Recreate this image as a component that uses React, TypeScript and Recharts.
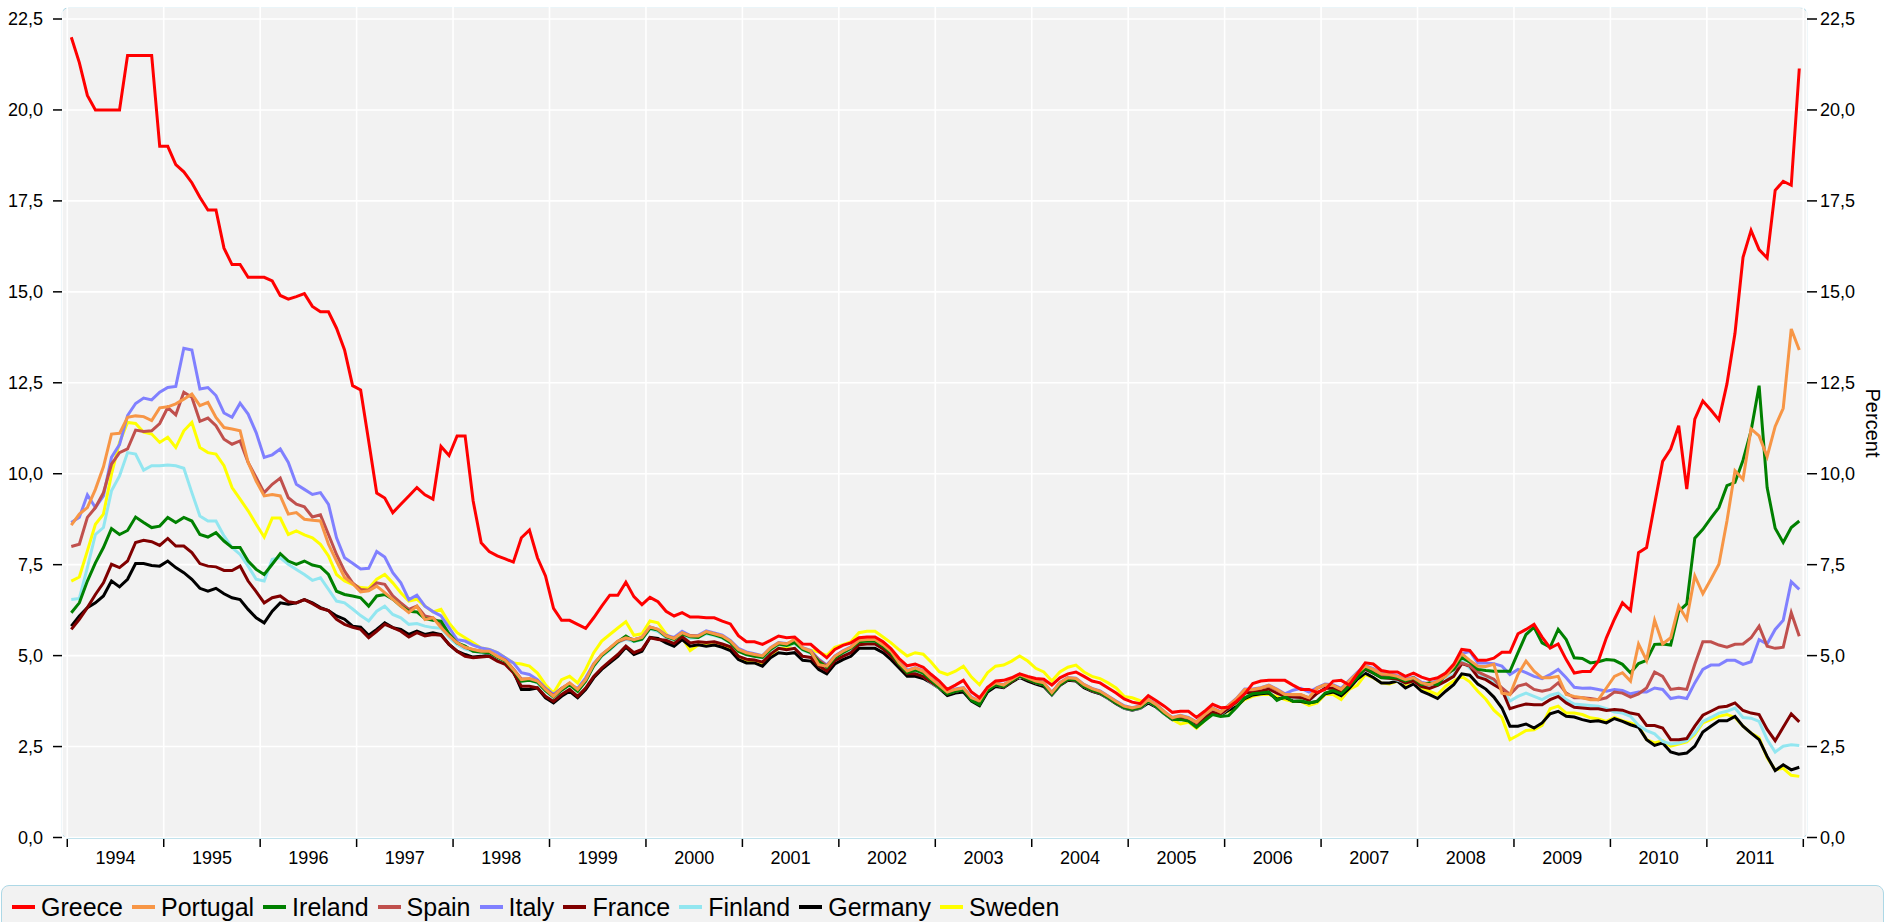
import React from "react";
import { LineChart, Line, XAxis, YAxis, CartesianGrid } from "recharts";

// monthly long-term bond yields, Jan 1994 .. Dec 2011 (one row per year)
const GREECE = [
  22.0, 21.3, 20.4, 20.0, 20.0, 20.0, 20.0, 21.5, 21.5, 21.5, 21.5, 19.0,
  19.0, 18.5, 18.3, 18.0, 17.6, 17.25, 17.25, 16.2, 15.75, 15.75, 15.4, 15.4,
  15.4, 15.3, 14.9, 14.8, 14.87, 14.95, 14.6, 14.45, 14.45, 14.0, 13.4, 12.42,
  12.3, 10.9, 9.47, 9.33, 8.93, 9.16, 9.39, 9.62, 9.42, 9.3, 10.75, 10.5,
  11.04, 11.04, 9.25, 8.1, 7.86, 7.74, 7.66, 7.57, 8.24, 8.45, 7.69, 7.19,
  6.3, 5.97, 5.97, 5.86, 5.75, 6.04, 6.36, 6.66, 6.66, 7.02, 6.62, 6.4,
  6.6, 6.48, 6.22, 6.09, 6.18, 6.06, 6.06, 6.04, 6.04, 5.95, 5.87, 5.55,
  5.38, 5.38, 5.31, 5.42, 5.54, 5.49, 5.51, 5.32, 5.31, 5.12, 4.94, 5.17,
  5.28, 5.35, 5.49, 5.51, 5.51, 5.38, 5.19, 4.92, 4.72, 4.77, 4.68, 4.48,
  4.3, 4.07, 4.19, 4.32, 4.0, 3.84, 4.13, 4.3, 4.32, 4.39, 4.5, 4.43,
  4.37, 4.35, 4.19, 4.39, 4.5, 4.55, 4.43, 4.3, 4.25, 4.11, 3.97, 3.81,
  3.72, 3.68, 3.9, 3.76, 3.61, 3.44, 3.47, 3.47, 3.3, 3.47, 3.66, 3.57,
  3.58, 3.75, 3.95, 4.23, 4.3, 4.32, 4.32, 4.32, 4.19, 4.07, 4.07, 3.99,
  4.07, 4.3, 4.32, 4.19, 4.5, 4.8, 4.77, 4.59, 4.55, 4.55, 4.43, 4.52,
  4.41, 4.34, 4.39, 4.52, 4.76, 5.17, 5.14, 4.87, 4.87, 4.93, 5.09, 5.09,
  5.6, 5.72, 5.86, 5.51, 5.21, 5.32, 4.89, 4.52, 4.56, 4.56, 4.85, 5.49,
  6.0, 6.45, 6.24, 7.83, 7.97, 9.16, 10.34, 10.68, 11.32, 9.58, 11.5, 12.0,
  11.75, 11.48, 12.47, 13.86, 15.95, 16.69, 16.16, 15.93, 17.79, 18.04, 17.93, 21.14,
];

const PORTUGAL = [
  8.59, 8.89, 9.07, 9.57, 10.19, 11.09, 11.11, 11.55, 11.59, 11.57, 11.46, 11.81,
  11.84, 11.92, 12.05, 12.19, 11.87, 11.96, 11.55, 11.27, 11.23, 11.18, 10.31, 9.8,
  9.39, 9.43, 9.39, 8.89, 8.93, 8.75, 8.72, 8.7, 8.06, 7.6, 7.15, 6.98,
  6.75, 6.78, 6.91, 6.73, 6.55, 6.36, 6.18, 6.36, 5.99, 6.04, 5.77, 5.54,
  5.35, 5.23, 5.17, 5.12, 5.12, 4.98, 4.87, 4.62, 4.34, 4.37, 4.3, 4.07,
  3.88, 4.09, 4.25, 4.07, 4.34, 4.76, 5.03, 5.21, 5.4, 5.49, 5.44, 5.5,
  5.79, 5.72, 5.54, 5.47, 5.63, 5.54, 5.54, 5.66, 5.6, 5.54, 5.4, 5.17,
  5.08, 5.03, 4.99, 5.21, 5.35, 5.32, 5.45, 5.21, 5.12, 4.75, 4.71, 4.98,
  5.12, 5.23, 5.42, 5.44, 5.44, 5.3, 5.12, 4.8, 4.58, 4.66, 4.57, 4.37,
  4.18, 4.0, 4.07, 4.11, 3.84, 3.76, 4.11, 4.25, 4.19, 4.34, 4.48, 4.39,
  4.3, 4.25, 3.98, 4.25, 4.39, 4.37, 4.2, 4.09, 4.02, 3.88, 3.74, 3.61,
  3.56, 3.61, 3.79, 3.65, 3.45, 3.29, 3.35, 3.29, 3.17, 3.38, 3.55, 3.45,
  3.63, 3.82, 4.07, 4.07, 4.11, 4.18, 4.07, 3.93, 3.93, 3.93, 3.84, 4.11,
  4.2, 4.18, 4.07, 4.3, 4.52, 4.71, 4.62, 4.5, 4.48, 4.43, 4.34, 4.39,
  4.25, 4.2, 4.3, 4.43, 4.71, 5.05, 4.87, 4.71, 4.7, 4.76, 3.97, 3.93,
  4.48, 4.85, 4.57, 4.39, 4.39, 4.43, 3.93, 3.88, 3.84, 3.79, 3.79, 4.11,
  4.43, 4.53, 4.3, 5.32, 4.87, 5.97, 5.32, 5.49, 6.36, 6.0, 7.19, 6.7,
  7.1, 7.51, 8.7, 10.08, 9.85, 11.23, 11.04, 10.47, 11.3, 11.8, 13.98, 13.4,
];

const IRELAND = [
  6.18, 6.45, 7.05, 7.55, 7.97, 8.49, 8.33, 8.44, 8.81, 8.66, 8.52, 8.56,
  8.8, 8.66, 8.8, 8.7, 8.33, 8.26, 8.38, 8.15, 7.97, 7.97, 7.6, 7.37,
  7.23, 7.51, 7.8, 7.6, 7.51, 7.6, 7.49, 7.44, 7.23, 6.77, 6.68, 6.64,
  6.59, 6.36, 6.64, 6.68, 6.55, 6.36, 6.22, 6.2, 6.02, 5.97, 5.95, 5.6,
  5.35, 5.26, 5.12, 5.1, 5.08, 4.96, 4.85, 4.6, 4.3, 4.32, 4.27, 4.04,
  3.86, 4.05, 4.2, 4.02, 4.3, 4.72, 5.0, 5.18, 5.38, 5.54, 5.4, 5.45,
  5.75, 5.7, 5.52, 5.45, 5.6, 5.52, 5.5, 5.63, 5.57, 5.5, 5.36, 5.12,
  5.03, 4.98, 4.95, 5.17, 5.32, 5.28, 5.36, 5.17, 5.08, 4.84, 4.68, 4.94,
  5.08, 5.2, 5.38, 5.4, 5.4, 5.26, 5.07, 4.76, 4.53, 4.6, 4.52, 4.32,
  4.12, 3.94, 4.02, 4.06, 3.77, 3.65, 4.04, 4.2, 4.15, 4.3, 4.44, 4.35,
  4.26, 4.2, 3.94, 4.2, 4.35, 4.33, 4.15, 4.05, 3.98, 3.84, 3.7, 3.57,
  3.52, 3.57, 3.75, 3.6, 3.41, 3.25, 3.24, 3.2, 3.03, 3.21, 3.38, 3.33,
  3.35, 3.58, 3.84, 3.95, 3.97, 4.0, 3.77, 3.88, 3.74, 3.76, 3.7, 3.74,
  3.97, 4.04, 3.95, 4.16, 4.39, 4.66, 4.52, 4.39, 4.39, 4.39, 4.3, 4.39,
  4.2, 4.25, 4.2, 4.48, 4.62, 4.95, 4.82, 4.62, 4.59, 4.57, 4.57, 4.57,
  5.08, 5.58, 5.78, 5.35, 5.23, 5.72, 5.44, 4.94, 4.92, 4.8, 4.83, 4.89,
  4.87, 4.76, 4.53, 4.78, 4.87, 5.31, 5.32, 5.29, 6.22, 6.42, 8.23, 8.47,
  8.78, 9.07, 9.67, 9.76, 10.37, 11.18, 12.42, 9.62, 8.5, 8.11, 8.52, 8.7,
];

const SPAIN = [
  8.0, 8.06, 8.8, 9.07, 9.48, 10.26, 10.58, 10.68, 11.2, 11.16, 11.18, 11.38,
  11.82, 11.62, 12.24, 12.1, 11.44, 11.53, 11.32, 10.95, 10.81, 10.9, 10.31, 9.9,
  9.48, 9.71, 9.88, 9.34, 9.16, 9.09, 8.81, 8.87, 8.33, 7.78, 7.32, 7.0,
  6.82, 6.8, 7.0, 6.96, 6.64, 6.45, 6.27, 6.36, 6.09, 6.04, 5.86, 5.58,
  5.36, 5.22, 5.16, 5.12, 5.1, 4.97, 4.88, 4.63, 4.36, 4.36, 4.3, 4.08,
  3.9, 4.1, 4.24, 4.06, 4.33, 4.75, 5.02, 5.2, 5.38, 5.47, 5.44, 5.49,
  5.78, 5.71, 5.55, 5.47, 5.62, 5.55, 5.53, 5.65, 5.6, 5.53, 5.4, 5.16,
  5.07, 5.03, 4.98, 5.2, 5.34, 5.32, 5.38, 5.2, 5.12, 4.88, 4.72, 4.97,
  5.11, 5.22, 5.41, 5.43, 5.43, 5.29, 5.11, 4.8, 4.57, 4.64, 4.56, 4.36,
  4.17, 3.99, 4.06, 4.1, 3.83, 3.72, 4.1, 4.24, 4.18, 4.33, 4.47, 4.38,
  4.29, 4.24, 3.97, 4.24, 4.38, 4.36, 4.19, 4.08, 4.01, 3.87, 3.73, 3.6,
  3.55, 3.6, 3.78, 3.64, 3.44, 3.28, 3.33, 3.28, 3.16, 3.37, 3.54, 3.44,
  3.62, 3.8, 4.05, 4.06, 4.1, 4.16, 4.05, 3.93, 3.92, 3.92, 3.84, 4.1,
  4.2, 4.18, 4.07, 4.3, 4.5, 4.7, 4.6, 4.48, 4.46, 4.42, 4.33, 4.38,
  4.24, 4.2, 4.28, 4.45, 4.62, 4.8, 4.72, 4.55, 4.45, 4.35, 4.11, 3.93,
  4.16, 4.22, 4.07, 4.02, 4.07, 4.25, 3.97, 3.84, 3.84, 3.82, 3.79, 3.84,
  4.0, 3.97, 3.86, 3.95, 4.11, 4.55, 4.43, 4.07, 4.1, 4.07, 4.76, 5.38,
  5.38, 5.29, 5.23, 5.31, 5.32, 5.49, 5.81, 5.26, 5.2, 5.23, 6.18, 5.53,
];

const ITALY = [
  8.66, 8.8, 9.42, 9.07, 9.39, 10.45, 10.8, 11.6, 11.93, 12.08, 12.03, 12.24,
  12.37, 12.4, 13.45, 13.4, 12.33, 12.37, 12.15, 11.67, 11.55, 11.94, 11.64, 11.13,
  10.45, 10.52, 10.68, 10.31, 9.71, 9.57, 9.43, 9.48, 9.16, 8.24, 7.69, 7.54,
  7.38, 7.4, 7.86, 7.71, 7.28, 7.0, 6.54, 6.66, 6.36, 6.21, 6.09, 5.77,
  5.44, 5.4, 5.29, 5.21, 5.17, 5.08, 4.94, 4.8, 4.53, 4.48, 4.34, 4.11,
  3.93, 4.1, 4.2, 4.1, 4.39, 4.78, 5.03, 5.2, 5.38, 5.5, 5.44, 5.5,
  5.79, 5.72, 5.56, 5.5, 5.67, 5.55, 5.56, 5.68, 5.62, 5.56, 5.42, 5.2,
  5.1, 5.05, 5.0, 5.22, 5.36, 5.33, 5.4, 5.22, 5.14, 4.9, 4.74, 4.99,
  5.13, 5.24, 5.43, 5.45, 5.45, 5.31, 5.13, 4.82, 4.6, 4.67, 4.58, 4.38,
  4.19, 4.01, 4.08, 4.12, 3.86, 3.75, 4.12, 4.26, 4.2, 4.35, 4.49, 4.4,
  4.31, 4.26, 3.99, 4.26, 4.4, 4.38, 4.21, 4.1, 4.03, 3.89, 3.75, 3.62,
  3.57, 3.62, 3.8, 3.66, 3.46, 3.3, 3.36, 3.3, 3.18, 3.39, 3.56, 3.46,
  3.64, 3.83, 4.08, 4.08, 4.12, 4.19, 4.08, 3.95, 4.05, 4.1, 4.0, 4.12,
  4.22, 4.2, 4.1, 4.32, 4.54, 4.73, 4.64, 4.52, 4.5, 4.45, 4.36, 4.41,
  4.27, 4.22, 4.32, 4.48, 4.68, 5.05, 5.12, 4.8, 4.8, 4.78, 4.71, 4.48,
  4.62, 4.53, 4.43, 4.37, 4.48, 4.62, 4.39, 4.13, 4.1, 4.11, 4.07, 4.02,
  4.07, 4.04, 3.95, 4.0, 4.0, 4.11, 4.07, 3.82, 3.86, 3.82, 4.25, 4.62,
  4.74, 4.74, 4.87, 4.87, 4.76, 4.83, 5.44, 5.32, 5.72, 5.97, 7.03, 6.82,
];

const FRANCE = [
  5.72, 6.0, 6.32, 6.68, 7.0, 7.51, 7.42, 7.6, 8.11, 8.17, 8.13, 8.03,
  8.22, 8.01, 8.01, 7.83, 7.53, 7.46, 7.44, 7.34, 7.34, 7.46, 7.05, 6.76,
  6.45, 6.59, 6.64, 6.48, 6.45, 6.54, 6.43, 6.3, 6.24, 6.0, 5.86, 5.78,
  5.72, 5.49, 5.67, 5.86, 5.77, 5.67, 5.51, 5.63, 5.54, 5.58, 5.56, 5.31,
  5.12, 4.98, 4.94, 4.96, 4.98, 4.85, 4.76, 4.53, 4.16, 4.16, 4.11, 3.88,
  3.74, 3.93, 4.07, 3.88, 4.11, 4.43, 4.66, 4.85, 5.03, 5.26, 5.08, 5.17,
  5.49, 5.44, 5.42, 5.33, 5.52, 5.35, 5.38, 5.36, 5.38, 5.32, 5.24, 4.98,
  4.9, 4.88, 4.82, 5.04, 5.2, 5.16, 5.2, 4.98, 4.95, 4.72, 4.58, 4.86,
  4.98, 5.08, 5.3, 5.32, 5.32, 5.18, 4.99, 4.75, 4.5, 4.5, 4.42, 4.27,
  4.12, 3.95, 4.02, 4.06, 3.8, 3.68, 4.06, 4.2, 4.14, 4.29, 4.43, 4.34,
  4.25, 4.2, 3.94, 4.2, 4.34, 4.32, 4.15, 4.04, 3.97, 3.84, 3.7, 3.57,
  3.52, 3.57, 3.75, 3.61, 3.42, 3.26, 3.3, 3.27, 3.13, 3.3, 3.44, 3.4,
  3.56, 3.73, 3.97, 4.0, 4.03, 4.08, 3.97, 3.88, 3.86, 3.85, 3.77, 3.96,
  4.1, 4.1, 4.0, 4.22, 4.45, 4.62, 4.52, 4.4, 4.38, 4.35, 4.25, 4.3,
  4.15, 4.1, 4.18, 4.3, 4.43, 4.78, 4.71, 4.41, 4.34, 4.2, 4.07, 3.54,
  3.61, 3.67, 3.65, 3.65, 3.79, 3.88, 3.7, 3.58, 3.56, 3.54, 3.54, 3.49,
  3.52, 3.5, 3.42, 3.38, 3.08, 3.08, 3.01, 2.69, 2.69, 2.72, 3.06, 3.36,
  3.47, 3.58, 3.61, 3.7, 3.49, 3.42, 3.38, 2.97, 2.66, 3.03, 3.4, 3.18,
];

const FINLAND = [
  6.54, 6.57, 7.42, 8.33, 8.52, 9.53, 9.94, 10.58, 10.54, 10.1, 10.22, 10.22,
  10.24, 10.22, 10.15, 9.48, 8.84, 8.7, 8.7, 8.29, 7.97, 7.78, 7.46, 7.1,
  7.05, 7.65, 7.69, 7.51, 7.37, 7.23, 7.07, 7.14, 6.82, 6.5, 6.45, 6.28,
  6.1, 5.95, 6.22, 6.36, 6.13, 6.04, 5.86, 5.88, 5.81, 5.77, 5.75, 5.5,
  5.3, 5.18, 5.12, 5.08, 5.07, 4.94, 4.83, 4.58, 4.3, 4.33, 4.25, 4.02,
  3.84, 4.05, 4.2, 4.03, 4.3, 4.7, 4.98, 5.15, 5.35, 5.45, 5.38, 5.44,
  5.73, 5.66, 5.5, 5.42, 5.58, 5.48, 5.5, 5.6, 5.55, 5.48, 5.35, 5.12,
  5.02, 4.98, 4.94, 5.15, 5.3, 5.27, 5.33, 5.15, 5.06, 4.84, 4.66, 4.92,
  5.06, 5.17, 5.36, 5.38, 5.38, 5.25, 5.06, 4.83, 4.56, 4.56, 4.43, 4.25,
  4.11, 3.96, 4.02, 4.07, 3.8, 3.7, 4.06, 4.2, 4.14, 4.3, 4.43, 4.35,
  4.25, 4.2, 3.93, 4.2, 4.35, 4.32, 4.15, 4.04, 3.97, 3.83, 3.7, 3.56,
  3.51, 3.56, 3.74, 3.6, 3.4, 3.25, 3.29, 3.26, 3.12, 3.3, 3.43, 3.38,
  3.55, 3.72, 3.97, 3.98, 4.02, 4.08, 3.97, 3.85, 3.85, 3.85, 3.75, 3.98,
  4.1, 4.08, 4.0, 4.2, 4.42, 4.6, 4.52, 4.4, 4.38, 4.33, 4.25, 4.3,
  4.15, 4.12, 4.22, 4.38, 4.48, 4.88, 4.65, 4.48, 4.43, 4.28, 4.11, 3.75,
  3.88, 3.97, 3.88, 3.79, 3.91, 3.97, 3.79, 3.67, 3.65, 3.63, 3.61, 3.54,
  3.45, 3.42, 3.33, 3.08, 2.94, 2.85, 2.64, 2.57, 2.6, 2.66, 2.87, 3.19,
  3.3, 3.42, 3.47, 3.56, 3.3, 3.28, 3.19, 2.69, 2.35, 2.51, 2.55, 2.53,
];

const GERMANY = [
  5.81, 6.09, 6.32, 6.45, 6.64, 7.05, 6.89, 7.1, 7.53, 7.53, 7.48, 7.46,
  7.6, 7.42, 7.28, 7.1, 6.85, 6.77, 6.85, 6.7, 6.59, 6.54, 6.27, 6.04,
  5.9, 6.22, 6.45, 6.41, 6.45, 6.54, 6.45, 6.32, 6.24, 6.09, 6.0, 5.81,
  5.78, 5.56, 5.72, 5.9, 5.77, 5.72, 5.58, 5.67, 5.58, 5.63, 5.58, 5.31,
  5.12, 5.03, 4.96, 4.98, 5.03, 4.9, 4.8, 4.57, 4.07, 4.07, 4.11, 3.84,
  3.7, 3.88, 4.02, 3.84, 4.07, 4.39, 4.62, 4.8, 4.98, 5.23, 5.03, 5.12,
  5.5, 5.47, 5.35, 5.26, 5.44, 5.26, 5.3, 5.26, 5.29, 5.23, 5.14, 4.89,
  4.8, 4.8, 4.71, 4.94, 5.08, 5.05, 5.08, 4.87, 4.85, 4.62, 4.5, 4.77,
  4.89, 4.98, 5.2, 5.2, 5.2, 5.08, 4.89, 4.66, 4.43, 4.43, 4.37, 4.25,
  4.1, 3.9, 3.97, 4.0, 3.75, 3.62, 4.0, 4.15, 4.12, 4.27, 4.4, 4.3,
  4.22, 4.15, 3.92, 4.18, 4.32, 4.3, 4.12, 4.02, 3.95, 3.82, 3.68, 3.55,
  3.5, 3.55, 3.7, 3.58, 3.4, 3.24, 3.28, 3.24, 3.1, 3.28, 3.4, 3.36,
  3.5, 3.6, 3.82, 3.92, 3.95, 3.97, 3.8, 3.85, 3.75, 3.74, 3.7, 3.74,
  3.95, 4.0, 3.9, 4.1, 4.35, 4.52, 4.4, 4.25, 4.25, 4.3, 4.11, 4.22,
  4.02, 3.93, 3.82, 4.02, 4.2, 4.5, 4.46, 4.22, 4.08, 3.86, 3.56, 3.06,
  3.06, 3.12, 3.01, 3.15, 3.4, 3.47, 3.33, 3.31, 3.24, 3.19, 3.21, 3.15,
  3.27, 3.19, 3.1, 3.03, 2.69, 2.53, 2.6, 2.35, 2.29, 2.32, 2.51, 2.9,
  3.06, 3.21, 3.21, 3.33, 3.06, 2.87, 2.69, 2.23, 1.84, 2.0, 1.86, 1.93,
];

const SWEDEN = [
  7.05, 7.16, 7.88, 8.61, 8.89, 9.99, 10.86, 11.41, 11.38, 11.14, 11.09, 10.86,
  11.0, 10.72, 11.18, 11.41, 10.72, 10.58, 10.54, 10.22, 9.62, 9.3, 8.98, 8.61,
  8.26, 8.78, 8.78, 8.33, 8.43, 8.32, 8.24, 8.06, 7.74, 7.23, 7.05, 6.96,
  6.87, 6.85, 7.1, 7.23, 7.0, 6.73, 6.5, 6.55, 6.36, 6.2, 6.27, 5.9,
  5.63, 5.49, 5.35, 5.21, 5.17, 5.08, 4.94, 4.8, 4.77, 4.71, 4.52, 4.2,
  3.97, 4.34, 4.43, 4.25, 4.62, 5.08, 5.4, 5.58, 5.76, 5.93, 5.56, 5.6,
  5.95, 5.9, 5.6, 5.4, 5.5, 5.14, 5.29, 5.3, 5.3, 5.26, 5.2, 4.98,
  4.85, 4.8, 4.76, 5.0, 5.2, 5.22, 5.35, 5.2, 5.15, 5.1, 5.0, 5.23,
  5.3, 5.38, 5.63, 5.67, 5.67, 5.51, 5.35, 5.16, 4.99, 5.08, 5.04, 4.82,
  4.56, 4.48, 4.57, 4.71, 4.41, 4.2, 4.53, 4.71, 4.74, 4.85, 4.99, 4.85,
  4.65, 4.55, 4.3, 4.55, 4.68, 4.74, 4.55, 4.43, 4.37, 4.25, 4.11, 3.88,
  3.84, 3.76, 3.74, 3.65, 3.47, 3.24, 3.12, 3.17, 3.0, 3.22, 3.4, 3.38,
  3.47, 3.63, 3.79, 3.88, 3.93, 3.93, 3.88, 3.79, 3.74, 3.74, 3.63, 3.7,
  3.93, 3.93, 3.79, 4.07, 4.18, 4.48, 4.39, 4.25, 4.22, 4.3, 4.2, 4.3,
  4.11, 4.02, 3.93, 4.16, 4.3, 4.43, 4.28, 4.02, 3.8, 3.5, 3.3, 2.69,
  2.81, 2.94, 2.96, 3.08, 3.54, 3.61, 3.42, 3.42, 3.38, 3.29, 3.26, 3.19,
  3.3, 3.21, 3.15, 3.06, 2.69, 2.6, 2.66, 2.51, 2.57, 2.63, 2.83, 3.15,
  3.24, 3.33, 3.38, 3.3, 3.06, 2.87, 2.74, 2.19, 1.86, 1.9, 1.71, 1.68,
];

const YEARS = [
  "1994", "1995", "1996", "1997", "1998", "1999", "2000", "2001", "2002",
  "2003", "2004", "2005", "2006", "2007", "2008", "2009", "2010", "2011",
];
const Y_TICKS = [0, 2.5, 5, 7.5, 10, 12.5, 15, 17.5, 20, 22.5];

const SERIES = [
  { name: "Greece", color: "#ff0000", values: GREECE },
  { name: "Portugal", color: "#f79646", values: PORTUGAL },
  { name: "Ireland", color: "#008000", values: IRELAND },
  { name: "Spain", color: "#c0504d", values: SPAIN },
  { name: "Italy", color: "#8080ff", values: ITALY },
  { name: "France", color: "#800000", values: FRANCE },
  { name: "Finland", color: "#92e6f0", values: FINLAND },
  { name: "Germany", color: "#000000", values: GERMANY },
  { name: "Sweden", color: "#ffff00", values: SWEDEN },
];

// x = month index (0 = Jan 1994), points sit mid-month; year boundaries at k*12 - 0.5
const data = GREECE.map((_, m) => {
  const row: Record<string, number> = { m };
  SERIES.forEach((s) => (row[s.name] = s.values[m]));
  return row;
});
const yearTicks = [...YEARS.map((_, k) => k * 12 - 0.5), YEARS.length * 12 - 0.5];

const FONT = '"Liberation Sans", Arial, Helvetica, sans-serif';
const MONTH_PX = 8.037;

const fmt = (v: number) => v.toFixed(1).replace(".", ",");

function YearTick(props: any) {
  const { x, payload } = props;
  const k = Math.round((payload.value + 0.5) / 12);
  return (
    <g>
      <line x1={x} x2={x} y1={839} y2={847} stroke="#000" strokeWidth={1.5} />
      {k < YEARS.length && (
        <text x={x + 6 * MONTH_PX} y={864} textAnchor="middle" fontSize={18} fontFamily={FONT} fill="#000">
          {YEARS[k]}
        </text>
      )}
    </g>
  );
}

export default function App() {
  return (
    <div style={{ position: "absolute", left: 0, top: 0, width: 1885, height: 922, background: "#fff", overflow: "hidden", fontFamily: FONT }}>
      {/* plot background */}
      <div
        style={{
          position: "absolute", left: 61, top: 6.5, width: 1747, height: 832,
          background: "#f2f2f2", border: "1.5px solid #add8e6", borderRadius: 8, boxSizing: "border-box",
        }}
      />
      <div style={{ position: "absolute", left: 0, top: 0 }}>
        <LineChart width={1885} height={882} data={data} margin={{ top: 7, right: 0, bottom: 0, left: 0 }}>
          <CartesianGrid stroke="#ffffff" strokeWidth={1.6} yAxisId="left" fill="none" />
          <XAxis
            dataKey="m" type="number" domain={[-1.157, 215.96]} allowDataOverflow
            ticks={yearTicks} interval={0} height={44.5}
            axisLine={false} tickLine={false} tick={<YearTick />}
          />
          <YAxis
            yAxisId="left" orientation="left" width={62} domain={[0, 22.83]} allowDataOverflow
            ticks={Y_TICKS} interval={0} tickFormatter={fmt} axisLine={false}
            tickLine={{ stroke: "#000", strokeWidth: 1.5 }} tickSize={9} tickMargin={10}
            tick={{ fontSize: 18, fill: "#000", fontFamily: FONT }}
          />
          <YAxis
            yAxisId="right" orientation="right" width={78} domain={[0, 22.83]} allowDataOverflow
            ticks={Y_TICKS} interval={0} tickFormatter={fmt} axisLine={false}
            tickLine={{ stroke: "#000", strokeWidth: 1.5 }} tickSize={10} tickMargin={3}
            tick={{ fontSize: 18, fill: "#000", fontFamily: FONT }}
            label={() => (
              <text x={1873} y={423} transform="rotate(90 1873 423)" textAnchor="middle" dominantBaseline="central" fontSize={20} fontFamily={FONT} fill="#000">
                Percent
              </text>
            )}
          />
          {[...SERIES].reverse().map((s) => (
            <Line
              key={s.name} yAxisId="left" type="linear" dataKey={s.name} stroke={s.color}
              strokeWidth={3} dot={false} activeDot={false} isAnimationActive={false}
            />
          ))}
        </LineChart>
      </div>
      {/* legend */}
      <div
        style={{
          position: "absolute", left: 1, top: 885, width: 1883, height: 50,
          background: "#f2f2f2", border: "1.5px solid #add8e6", borderRadius: 8, boxSizing: "border-box",
          display: "flex", alignItems: "flex-start", paddingLeft: 10, paddingTop: 6,
        }}
      >
        {SERIES.map((s) => (
          <div key={s.name} style={{ display: "flex", alignItems: "center", marginRight: 9, height: 30 }}>
            <div style={{ width: 23, height: 4, background: s.color, marginRight: 6 }} />
            <span style={{ fontSize: 25, color: "#000", lineHeight: "30px" }}>{s.name}</span>
          </div>
        ))}
      </div>
    </div>
  );
}
